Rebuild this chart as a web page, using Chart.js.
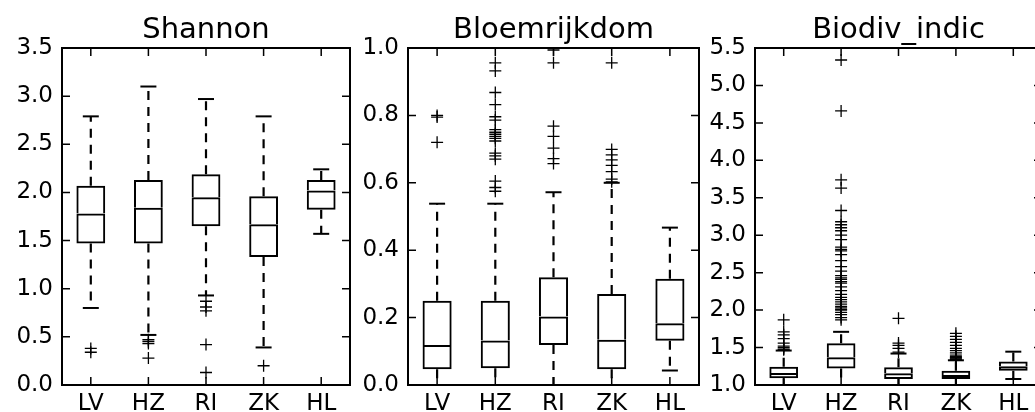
<!DOCTYPE html>
<html><head><meta charset="utf-8">
<script src="https://cdn.jsdelivr.net/npm/chart.js@4.4.1/dist/chart.umd.min.js"></script>
<style>
html,body{margin:0;padding:0;background:#fff;overflow:hidden;width:1035px;height:412px;position:relative;}
canvas{position:absolute;top:0;}
</style></head><body>
<canvas id="c1" width="352" height="412" style="left:0px"></canvas>
<canvas id="c2" width="352" height="412" style="left:352px"></canvas>
<canvas id="c3" width="340" height="412" style="left:704px"></canvas>
<script>
const categories = ['LV', 'HZ', 'RI', 'ZK', 'HL'];

// Shannon
const shannonTicks = [0, 0.5, 1.0, 1.5, 2.0, 2.5, 3.0, 3.5];
const shannonLow = [0.80, 0.52, 0.93, 0.39, 1.57];
const shannonQ1 = [1.47, 1.47, 1.65, 1.33, 1.82];
const shannonMedian = [1.78, 1.84, 1.95, 1.67, 2.02];
const shannonQ3 = [2.07, 2.13, 2.19, 1.96, 2.13];
const shannonHigh = [2.79, 3.10, 2.97, 2.79, 2.24];
const shannonOutliers = [[0.38, 0.34], [0.47, 0.45, 0.43, 0.28], [0.87, 0.81, 0.77, 0.42, 0.13], [0.20], []];

// Bloemrijkdom
const bloemTicks = [0, 0.2, 0.4, 0.6, 0.8, 1.0];
const bloemLow = [0, 0, 0, 0, 0.043];
const bloemQ1 = [0.047, 0.05, 0.119, 0.047, 0.131];
const bloemMedian = [0.119, 0.132, 0.203, 0.134, 0.183];
const bloemQ3 = [0.25, 0.25, 0.32, 0.27, 0.315];
const bloemHigh = [0.538, 0.538, 0.572, 0.60, 0.467];
const bloemOutliers = [
  [0.80, 0.795, 0.72],
  [0.956, 0.932, 0.868, 0.832, 0.796, 0.786, 0.758, 0.750, 0.744, 0.738, 0.732, 0.724, 0.688, 0.680, 0.670, 0.605, 0.586, 0.575],
  [0.994, 0.956, 0.768, 0.738, 0.703, 0.672, 0.657],
  [0.956, 0.699, 0.683, 0.668, 0.652, 0.633, 0.611, 0.603],
  []
];

// Biodiv_indic
const biodivTicks = [1.0, 1.5, 2.0, 2.5, 3.0, 3.5, 4.0, 4.5, 5.0, 5.5];
const biodivLow = [1.0, 1.0, 1.0, 1.0, 1.08];
const biodivQ1 = [1.089, 1.22, 1.08, 1.08, 1.19];
const biodivMedian = [1.16, 1.37, 1.156, 1.134, 1.25];
const biodivQ3 = [1.245, 1.557, 1.236, 1.19, 1.315];
const biodivHigh = [1.46, 1.71, 1.42, 1.33, 1.445];
const biodivOutliers = [
  [1.87, 1.71, 1.67, 1.62, 1.56, 1.52, 1.50, 1.48, 1.47],
  [5.34, 4.66, 3.74, 3.63, 3.33, 3.18, 3.14, 3.10, 3.06, 3.00, 2.94, 2.84, 2.81, 2.79, 2.74, 2.66, 2.58, 2.52, 2.46, 2.43, 2.41, 2.38, 2.36, 2.31, 2.26, 2.21, 2.17, 2.14, 2.11, 2.08, 2.05, 2.03, 2.01, 2.00, 1.97, 1.94, 1.90, 1.87],
  [1.89, 1.56, 1.53, 1.49, 1.44],
  [1.69, 1.65, 1.61, 1.57, 1.53, 1.49, 1.46, 1.43, 1.40, 1.38, 1.37, 1.36, 1.35, 1.34],
  []
];

const FONT = 'DejaVu Sans';

const framePlugin = {
  id: 'frame',
  afterDatasetsDraw(chart) {
    const {ctx, chartArea: a, scales} = chart;
    const x = scales.x, y = scales.y;
    ctx.save();
    ctx.strokeStyle = '#000';
    ctx.lineWidth = 2;
    ctx.strokeRect(a.left, a.top, a.right - a.left, a.bottom - a.top);
    ctx.lineWidth = 1.5;
    ctx.beginPath();
    const L = 8;
    y.ticks.forEach((t, i) => {
      const py = y.getPixelForTick(i);
      ctx.moveTo(a.left, py); ctx.lineTo(a.left + L, py);
      ctx.moveTo(a.right, py); ctx.lineTo(a.right - L, py);
    });
    x.ticks.forEach((t, i) => {
      const px = x.getPixelForTick(i);
      ctx.moveTo(px, a.bottom); ctx.lineTo(px, a.bottom - L);
      ctx.moveTo(px, a.top); ctx.lineTo(px, a.top + L);
    });
    ctx.stroke();
    ctx.restore();
  }
};

function makeChart(id, title, low, q1, med, q3, high, outliers, ticks, yWidth, padRight) {
  const whiskers = [];
  const caps = [];
  const outs = [];
  categories.forEach((c, i) => {
    whiskers.push({x: c, y: q3[i]}, {x: c, y: high[i]}, {x: c, y: null});
    whiskers.push({x: c, y: q1[i]}, {x: c, y: low[i]}, {x: c, y: null});
    caps.push({x: c, y: high[i]}, {x: c, y: low[i]});
    outliers[i].forEach(v => outs.push({x: c, y: v}));
  });
  return new Chart(document.getElementById(id), {
    type: 'bar',
    data: {
      labels: categories,
      datasets: [
        {
          data: categories.map((c, i) => [q1[i], med[i]]),
          backgroundColor: 'rgba(0,0,0,0)', borderColor: '#000',
          borderWidth: {left: 2, right: 2, bottom: 2, top: 2}, borderSkipped: false,
          barPercentage: 0.5, categoryPercentage: 1, grouped: false
        },
        {
          data: categories.map((c, i) => [med[i], q3[i]]),
          backgroundColor: 'rgba(0,0,0,0)', borderColor: '#000',
          borderWidth: {left: 2, right: 2, bottom: 0, top: 2}, borderSkipped: false,
          barPercentage: 0.5, categoryPercentage: 1, grouped: false
        },
        {
          type: 'line', data: whiskers, borderColor: '#000', borderWidth: 2.2,
          borderDash: [9, 7], pointRadius: 0, spanGaps: false, tension: 0, fill: false
        },
        {
          type: 'line', data: caps, showLine: false, pointStyle: 'line',
          pointRadius: 8, pointBorderWidth: 2, pointBorderColor: '#000', borderColor: '#000'
        },
        {
          type: 'line', data: outs, showLine: false, pointStyle: 'cross',
          pointRadius: 6, pointBorderWidth: 1.3, pointBorderColor: '#000', borderColor: '#000'
        }
      ]
    },
    options: {
      responsive: false, animation: false, events: [],
      layout: {autoPadding: false, padding: {right: padRight, left: 0, top: 0, bottom: 0}},
      plugins: {
        legend: {display: false}, tooltip: {enabled: false},
        title: {
          display: true, text: title, fullSize: false, color: '#000',
          font: {family: FONT, size: 29, weight: 'normal', lineHeight: 1.1},
          padding: {top: 15, bottom: 1.1}
        }
      },
      scales: {
        x: {
          type: 'category',
          grid: {display: false, drawTicks: false}, border: {display: false},
          ticks: {color: '#000', font: {family: FONT, size: 23}, padding: 5, maxRotation: 0, autoSkip: false},
          afterFit: s => { s.height = 27; s.paddingLeft = 0; s.paddingRight = 0; }
        },
        y: {
          min: ticks[0], max: ticks[ticks.length - 1],
          grid: {display: false, drawTicks: false}, border: {display: false},
          afterBuildTicks: s => { s.ticks = ticks.map(v => ({value: v})); },
          ticks: {color: '#000', font: {family: FONT, size: 23}, padding: 9, callback: v => Number(v).toFixed(1)},
          afterFit: s => { s.width = yWidth; s.paddingTop = 0; s.paddingBottom = 0; }
        }
      }
    },
    plugins: [framePlugin]
  });
}

makeChart('c1', 'Shannon', shannonLow, shannonQ1, shannonMedian, shannonQ3, shannonHigh, shannonOutliers, shannonTicks, 62, 2);
makeChart('c2', 'Bloemrijkdom', bloemLow, bloemQ1, bloemMedian, bloemQ3, bloemHigh, bloemOutliers, bloemTicks, 56, 5);
makeChart('c3', 'Biodiv_indic', biodivLow, biodivQ1, biodivMedian, biodivQ3, biodivHigh, biodivOutliers, biodivTicks, 51, 2);
</script>
</body></html>
